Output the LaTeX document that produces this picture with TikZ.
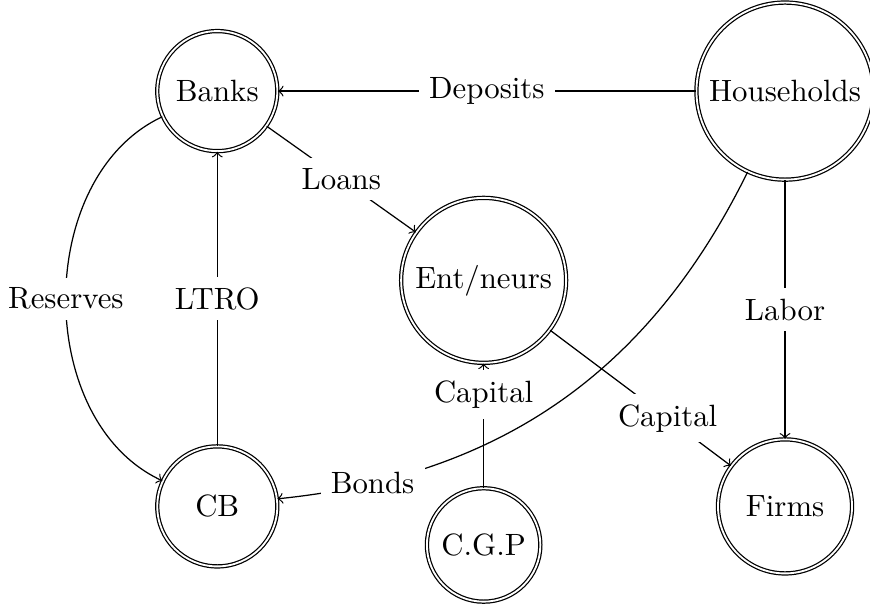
\documentclass[tikz,border=0pt]{standalone}
\begin{document}
\begin{tikzpicture}[
    agent/.style={circle, draw, double},
    flow/.style={fill=white}
]
    \useasboundingbox (0,0) rectangle (9.93,6.93);

    % sectors
    \node[agent, minimum size=1.37cm] (banks) at (2.48,5.89) {Banks};
    \node[agent] (households) at (8.96,5.89) {Households};
    \node[agent] (entneurs) at (5.52,3.73) {Ent/neurs};
    \node[agent, minimum size=1.37cm] (cb) at (2.48,1.15) {CB};
    \node[agent, minimum size=1.53cm] (firms) at (8.96,1.15) {Firms};
    \node[agent] (cgp) at (5.52,0.71) {C.G.P};

    % flows
    \draw[->] (households) -- node[flow] {Deposits} (banks);
    \draw[->] (banks) -- node[flow] {Loans} (entneurs);
    \draw[->] (cb) -- node[flow] {LTRO} (banks);
    \draw[->] (banks) to[bend right=65] node[flow] {Reserves} (cb);
    \draw[->] (households) -- node[flow] {Labor} (firms);
    \draw[->] (entneurs) -- node[flow, pos=0.65] {Capital} (firms);
    \draw[->] (cgp) -- node[flow, near end] {Capital} (entneurs);
    \draw[->] (households) to[bend left=29] node[flow, pos=0.85] {Bonds} (cb);
\end{tikzpicture}
\end{document}
